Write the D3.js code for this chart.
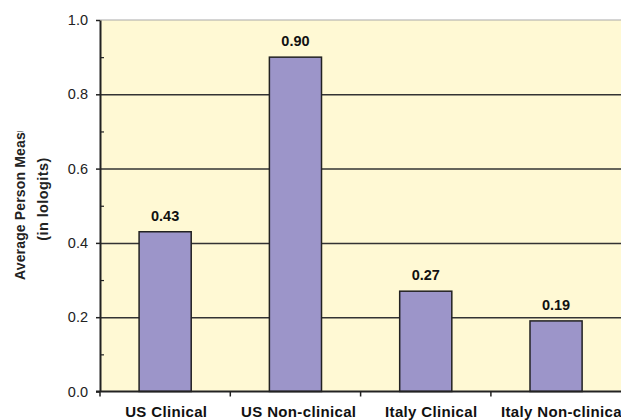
<!DOCTYPE html>
<html><head><meta charset="utf-8">
<script src="https://cdn.jsdelivr.net/npm/d3@7"></script>
<style>
html,body{margin:0;padding:0;background:#fff;}
svg{display:block;font-family:"Liberation Sans",Arial,sans-serif;}
</style></head>
<body>
<svg id="chart" width="621" height="420"></svg>
<script>
const categories = ["US Clinical", "US Non-clinical", "Italy Clinical", "Italy Non-clinical"];
const values = [0.43, 0.90, 0.27, 0.19];
const valueLabels = ["0.43", "0.90", "0.27", "0.19"];
const majorTicks = [0, 0.2, 0.4, 0.6, 0.8, 1.0];
const minorTicks = [0.1, 0.3, 0.5, 0.7, 0.9];
const yTitle = ["Average Person Measure", "(in lologits)"];

(function () {
const svg = d3.select("#chart");
const mL = 100, mT = 20, mB = 391.5, mR = 621.2;

const y = d3.scaleLinear().domain([0, 1]).range([mB, mT]);
const x = d3.scaleBand().domain(categories).range([mL, mR]).paddingInner(0.6).paddingOuter(0.3);
// category labels sit on a slightly wider band than the bars
const xLab = d3.scaleBand().domain(categories).range([mL, 630]);

// plot background
svg.append("rect").attr("x", mL).attr("y", mT).attr("width", 700).attr("height", mB - mT)
  .attr("fill", "#FFF9D4");
// top border
svg.append("line").attr("x1", mL).attr("x2", 621).attr("y1", mT).attr("y2", mT)
  .attr("stroke", "#aaa").attr("stroke-width", 1.2);

// gridlines
const grid = svg.append("g").attr("transform", `translate(${mL},0)`)
  .call(d3.axisLeft(y).tickValues(majorTicks.filter(d => d > 0 && d < 1)).tickSize(-(621 - mL)).tickFormat(""));
grid.select(".domain").remove();
grid.selectAll("line").attr("stroke", "#333").attr("stroke-width", 1.5);

// bars
svg.append("g").selectAll("rect").data(values).join("rect")
  .attr("x", (d, i) => x(categories[i]))
  .attr("y", d => y(d))
  .attr("width", x.bandwidth())
  .attr("height", d => y(0) - y(d))
  .attr("fill", "#9C95C9")
  .attr("stroke", "#222")
  .attr("stroke-width", 1.5);

// value labels
svg.append("g").selectAll("text").data(values).join("text")
  .attr("x", (d, i) => x(categories[i]) + x.bandwidth() / 2)
  .attr("y", d => y(d) - 11)
  .attr("text-anchor", "middle")
  .attr("font-size", 14.5)
  .attr("font-weight", "bold")
  .attr("fill", "#111")
  .text((d, i) => valueLabels[i]);

// y axis major
const yAx = svg.append("g").attr("transform", `translate(${mL},0)`)
  .call(d3.axisLeft(y).tickValues(majorTicks).tickSize(4).tickSizeOuter(0).tickPadding(8).tickFormat(d3.format(".1f")));
yAx.select(".domain").attr("stroke", "#222").attr("stroke-width", 2);
yAx.selectAll(".tick line").attr("stroke", "#222").attr("stroke-width", 1.5);
yAx.selectAll("text").attr("font-size", 14.5).attr("fill", "#222").attr("font-family", "Liberation Sans, Arial, sans-serif");
// y axis minor (inward)
const yMin = svg.append("g").attr("transform", `translate(${mL},0)`)
  .call(d3.axisLeft(y).tickValues(minorTicks).tickSize(-4).tickFormat(""));
yMin.select(".domain").remove();
yMin.selectAll("line").attr("stroke", "#222").attr("stroke-width", 1.2);

// x axis line
svg.append("line").attr("x1", mL - 4).attr("x2", 621).attr("y1", mB).attr("y2", mB)
  .attr("stroke", "#222").attr("stroke-width", 2);
// x labels
const xAx = svg.append("g").attr("transform", `translate(0,${mB})`)
  .call(d3.axisBottom(xLab).tickSize(0).tickPadding(15));
xAx.select(".domain").remove();
xAx.selectAll("text").attr("font-size", 15).attr("font-weight", "bold").attr("fill", "#111")
  .attr("font-family", "Liberation Sans, Arial, sans-serif").attr("letter-spacing", 0.35);
// boundary ticks
const bounds = categories.map(c => x(c) - (x.step() - x.bandwidth()) / 2);
svg.append("g").selectAll("line").data(bounds).join("line")
  .attr("x1", d => d).attr("x2", d => d).attr("y1", mB).attr("y2", mB + 5)
  .attr("stroke", "#222").attr("stroke-width", 1.5);

// y title
const clip = svg.append("clipPath").attr("id", "tclip");
clip.append("rect").attr("x", 0).attr("y", 131).attr("width", 100).attr("height", 200);
const tg = svg.append("g").attr("clip-path", "url(#tclip)");
tg.append("text").attr("transform", "translate(25,280) rotate(-90)")
  .attr("text-anchor", "start").attr("font-size", 14).attr("font-weight", "bold").attr("fill", "#222")
  .attr("letter-spacing", 0.15)
  .text(yTitle[0]);
svg.append("text").attr("transform", "translate(47.5,199) rotate(-90)")
  .attr("text-anchor", "middle").attr("font-size", 14.5).attr("font-weight", "bold").attr("fill", "#222")
  .attr("letter-spacing", 0.4)
  .text(yTitle[1]);
})();
</script>
</body></html>
